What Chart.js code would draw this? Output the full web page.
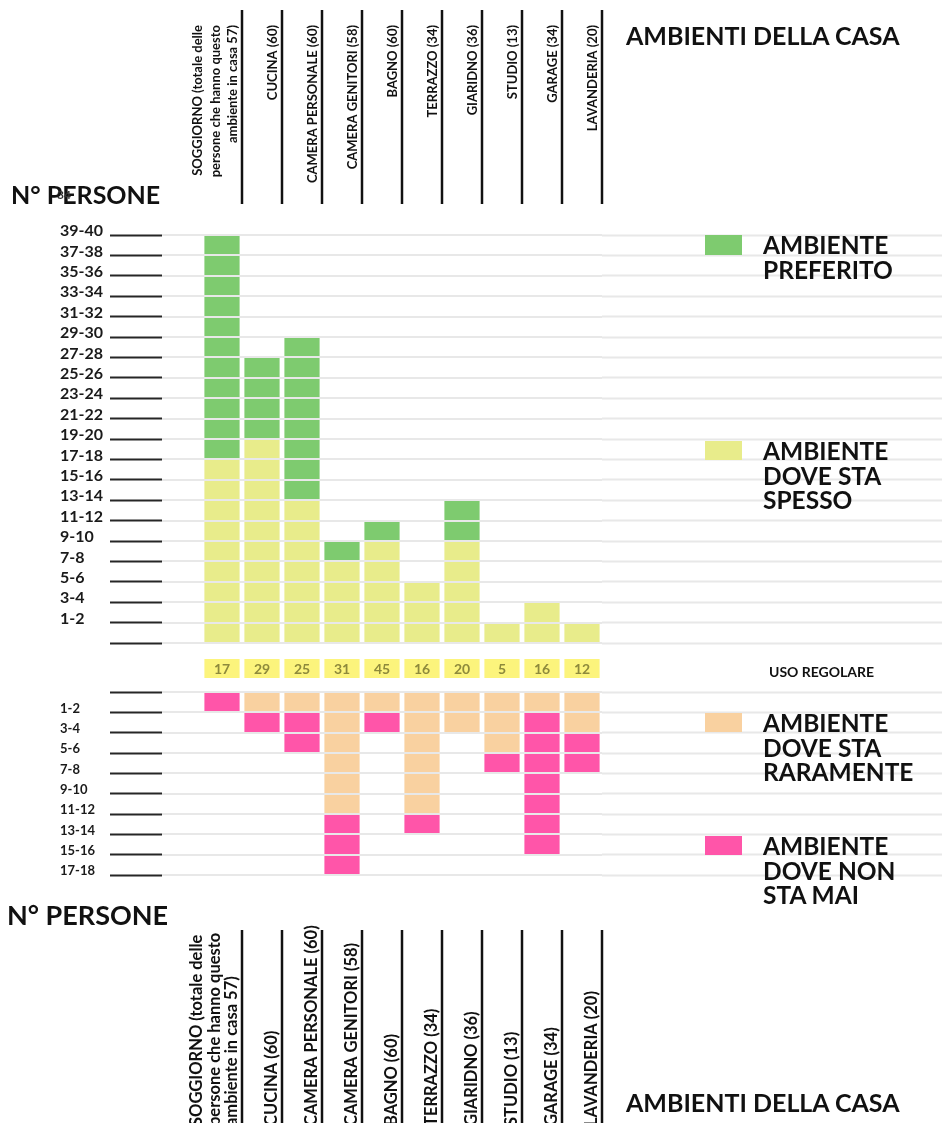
<!DOCTYPE html>
<html>
<head>
<meta charset="utf-8">
<script src="https://cdn.jsdelivr.net/npm/chart.js@4.4.1/dist/chart.umd.min.js"></script>
<style>
  html, body { margin: 0; padding: 0; background: #fff; }
  body { width: 942px; height: 1123px; position: relative; overflow: hidden;
         font-family: Lato, "Open Sans", sans-serif; font-weight: 700; color: #111; }
  canvas { position: absolute; left: 0; }
  .t { position: absolute; white-space: nowrap; line-height: 1; }
  .leg { position: absolute; left: 763px; font-size: 24.5px; line-height: 24.5px; white-space: nowrap; }
  .sw { position: absolute; left: 705px; width: 37px; height: 19px; }
</style>
</head>
<body>
<canvas id="upper" width="942" height="660" style="top:0;width:942px;height:660px"></canvas>
<canvas id="lower" width="942" height="473" style="top:650px;width:942px;height:473px"></canvas>

<div class="t" style="left:11px;top:182px;font-size:25px">N° PERSONE</div>
<div class="t" style="left:57px;top:189px;font-size:12px;color:#333">34</div>
<div class="t" style="left:626px;top:23px;font-size:25px">AMBIENTI DELLA CASA</div>
<div class="t" style="left:7px;top:901px;font-size:27px">N° PERSONE</div>
<div class="t" style="left:626px;top:1090px;font-size:25px">AMBIENTI DELLA CASA</div>
<div class="t" style="left:769px;top:665px;font-size:14px">USO REGOLARE</div>

<div class="sw" style="top:235px;height:20px;background:#7ecb6f"></div>
<div class="leg" style="top:233px">AMBIENTE<br>PREFERITO</div>
<div class="sw" style="top:441px;background:#e8ec8b"></div>
<div class="leg" style="top:439px">AMBIENTE<br>DOVE STA<br>SPESSO</div>
<div class="sw" style="top:713px;background:#f9d1a0"></div>
<div class="leg" style="top:711px">AMBIENTE<br>DOVE STA<br>RARAMENTE</div>
<div class="sw" style="top:836px;background:#ff55a9"></div>
<div class="leg" style="top:834px">AMBIENTE<br>DOVE NON<br>STA MAI</div>

<script>
// Rooms of the house (each entry holds the lines of its rotated header)
const rooms = [
  ['SOGGIORNO (totale delle', 'persone che hanno questo', 'ambiente in casa 57)'],
  ['CUCINA (60)'],
  ['CAMERA PERSONALE (60)'],
  ['CAMERA GENITORI (58)'],
  ['BAGNO (60)'],
  ['TERRAZZO (34)'],
  ['GIARIDNO (36)'],
  ['STUDIO (13)'],
  ['GARAGE (34)'],
  ['LAVANDERIA (20)']
];
const categories = rooms.map(r => r.join(' '));

// Number of people per room and attitude
const spesso     = [18, 20, 14, 8, 10, 6, 10, 2, 4, 2];   // ambiente dove sta spesso
const preferito  = [22, 8, 16, 2, 2, 0, 4, 0, 0, 0];     // ambiente preferito
const raramente  = [0, 2, 2, 12, 2, 12, 4, 6, 2, 4];     // ambiente dove sta raramente
const maiStato   = [2, 2, 4, 6, 2, 2, 0, 2, 14, 4];      // ambiente dove non sta mai
const usoRegolare = [17, 29, 25, 31, 45, 16, 20, 5, 16, 12];

// Axis ranges (people, counted in pairs)
const upperMax = 40;
const lowerMax = 18;
const pairStep = 2;

const GREEN = '#7ecb6f', YELLOW = '#e8ec8b', ORANGE = '#f9d1a0', PINK = '#ff55a9';
const GRID = '#e8e8e8';

Chart.defaults.font.family = 'Lato, "Open Sans", sans-serif';

function pairLabel(v) { return v > 0 ? (v - 1) + '-' + v : ''; }

function yAxes(max, reverse, labelSize) {
  const base = { type: 'linear', min: 0, max: max, reverse: reverse, stacked: true, border: { display: false } };
  return {
    y: Object.assign({}, base, {
      position: 'left', weight: 2,
      afterFit: s => { s.width = 102; },
      ticks: { stepSize: pairStep, autoSkip: false, crossAlign: 'far', labelOffset: -4, padding: 0,
               color: '#1a1a1a', font: { size: labelSize, weight: 'bold' }, callback: pairLabel },
      grid: { drawOnChartArea: false, tickLength: 52, tickColor: '#262626', tickWidth: 2 }
    }),
    // grid on top of the bars, so it splits each column into cells of two people
    yIn: Object.assign({}, base, {
      position: 'left', weight: 1,
      afterFit: s => { s.width = 40; },
      ticks: { stepSize: pairStep, autoSkip: false, display: false },
      grid: { z: 1, color: GRID, lineWidth: 2, tickLength: 40, tickColor: GRID, tickWidth: 2 }
    }),
    yR: Object.assign({}, base, {
      position: 'right',
      afterFit: s => { s.width = 340; },
      ticks: { stepSize: pairStep, autoSkip: false, display: false },
      grid: { drawOnChartArea: false, tickLength: 340, tickColor: GRID, tickWidth: 2 }
    })
  };
}

// Rotated room names with the black separators between columns
const roomHeaders = {
  id: 'roomHeaders',
  afterDraw(chart, args, o) {
    const { ctx } = chart;
    const x = chart.scales.x;
    const half = (x.getPixelForValue(1) - x.getPixelForValue(0)) / 2;
    ctx.save();
    rooms.forEach((lines, i) => {
      const edge = Math.round(x.getPixelForValue(i) + half);
      ctx.strokeStyle = '#111';
      ctx.lineWidth = 2.5;
      ctx.beginPath();
      ctx.moveTo(edge, o.lineTop);
      ctx.lineTo(edge, o.lineBottom);
      ctx.stroke();
      ctx.fillStyle = '#111';
      ctx.font = 'bold ' + o.size + 'px Lato, "Open Sans", sans-serif';
      lines.forEach((ln, k) => {
        const bx = edge - 5 - (lines.length - 1 - k) * o.spacing;
        ctx.save();
        ctx.translate(bx, o.anchor);
        ctx.rotate(-Math.PI / 2);
        ctx.textAlign = o.align;
        ctx.textBaseline = 'alphabetic';
        ctx.fillText(ln, 0, 0);
        ctx.restore();
      });
    });
    ctx.restore();
  }
};

// Yellow boxes with the "uso regolare" counts above the lower block
const regularUse = {
  id: 'regularUse',
  afterDraw(chart) {
    const { ctx, chartArea } = chart;
    const x = chart.scales.x;
    const w = (x.getPixelForValue(1) - x.getPixelForValue(0)) * 0.88;
    ctx.save();
    ctx.font = 'bold 14px Lato, "Open Sans", sans-serif';
    ctx.textAlign = 'center';
    ctx.textBaseline = 'middle';
    usoRegolare.forEach((v, i) => {
      const cx = x.getPixelForValue(i);
      const top = chartArea.top - 33;
      ctx.fillStyle = '#fcf47c';
      ctx.fillRect(cx - w / 2, top, w, 19);
      ctx.fillStyle = '#8e8a3c';
      ctx.fillText(String(v), cx, top + 10);
    });
    ctx.restore();
  }
};

const barDefaults = { barPercentage: 0.88, categoryPercentage: 1, borderWidth: 0, yAxisID: 'y' };

const common = {
  responsive: false,
  animation: false,
  events: [],
  plugins: { legend: { display: false }, tooltip: { enabled: false } }
};

new Chart(document.getElementById('upper'), {
  type: 'bar',
  data: {
    labels: categories,
    datasets: [
      Object.assign({ label: 'AMBIENTE DOVE STA SPESSO', data: spesso, backgroundColor: YELLOW }, barDefaults),
      Object.assign({ label: 'AMBIENTE PREFERITO', data: preferito, backgroundColor: GREEN }, barDefaults)
    ]
  },
  options: Object.assign({}, common, {
    layout: { padding: { left: 60, right: 0, top: 235, bottom: 17 } },
    scales: Object.assign({ x: { type: 'category', stacked: true, display: false } }, yAxes(upperMax, false, 16)),
    plugins: Object.assign({}, common.plugins, {
      roomHeaders: { lineTop: 10, lineBottom: 204, anchor: 25, align: 'right', size: 13, spacing: 17.5 }
    })
  }),
  plugins: [roomHeaders]
});

new Chart(document.getElementById('lower'), {
  type: 'bar',
  data: {
    labels: categories,
    datasets: [
      Object.assign({ label: 'AMBIENTE DOVE STA RARAMENTE', data: raramente, backgroundColor: ORANGE }, barDefaults),
      Object.assign({ label: 'AMBIENTE DOVE NON STA MAI', data: maiStato, backgroundColor: PINK }, barDefaults)
    ]
  },
  options: Object.assign({}, common, {
    layout: { padding: { left: 60, right: 0, top: 42, bottom: 248 } },
    scales: Object.assign({ x: { type: 'category', stacked: true, display: false } }, yAxes(lowerMax, true, 13)),
    plugins: Object.assign({}, common.plugins, {
      roomHeaders: { lineTop: 280, lineBottom: 473, anchor: 476, align: 'left', size: 16.5, spacing: 17.5 }
    })
  }),
  plugins: [roomHeaders, regularUse]
});
</script>
</body>
</html>
